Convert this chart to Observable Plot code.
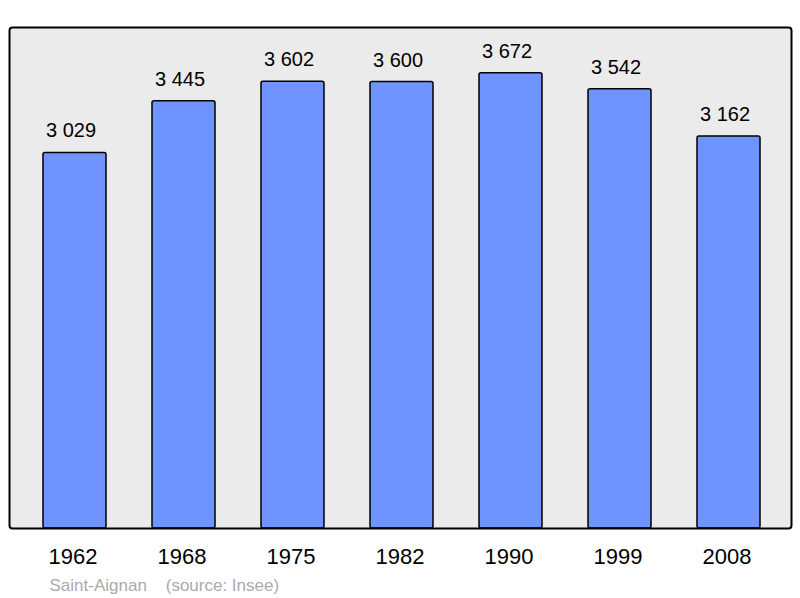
<!DOCTYPE html>
<html><head><meta charset="utf-8">
<script src="https://cdn.jsdelivr.net/npm/d3@7"></script>
<script src="https://cdn.jsdelivr.net/npm/@observablehq/plot@0.6"></script>
<style>body{margin:0;background:#fff;font-family:"Liberation Sans",Arial,sans-serif}</style>
</head><body><div id="chart"></div>
<script>
const years = ["1962","1968","1975","1982","1990","1999","2008"];
const population = [3029, 3445, 3602, 3600, 3672, 3542, 3162];
const caption = "Saint-Aignan    (source: Insee)";
const data = years.map((y,i)=>({year:y, pop:population[i]}));
const fmt = v => d3.format(",")(v).replace(/,/g," ");
const chart = Plot.plot({
  width: 800, height: 598,
  marginLeft: 18, marginRight: 15, marginTop: 32, marginBottom: 70,
  style: {fontFamily: '"Liberation Sans", Arial, sans-serif', background: "#fff"},
  x: {domain: years, paddingInner: 0.42, paddingOuter: 0.21, label: null},
  y: {domain: [0, 4000], axis: null},
  marks: [
    Plot.frame({fill: "#ebebeb", stroke: "none", insetLeft: -9, insetRight: -6, insetTop: -5, rx: 3}),
    Plot.barY(data, {x: "year", y: "pop", fill: "#7094ff", stroke: "#000", strokeWidth: 1.5, rx: 2}),
    Plot.text(data, {x: "year", y: "pop", text: d => fmt(d.pop), dx: -4, dy: -22, fontSize: 20, fill: "#000"}),
    Plot.frame({fill: "none", stroke: "#000", strokeWidth: 2, insetLeft: -9, insetRight: -6, insetTop: -5, rx: 3}),
    Plot.axisX({tickSize: 0, tickPadding: 20, dx: -2, fontSize: 22, label: null, fill: "#000"}),
    Plot.text([caption], {frameAnchor: "bottom-left", text: d => d, dx: 31, dy: 62, fontSize: 17, fill: "#aaa", textAnchor: "start"})
  ]
});
document.getElementById("chart").append(chart);
</script></body></html>
